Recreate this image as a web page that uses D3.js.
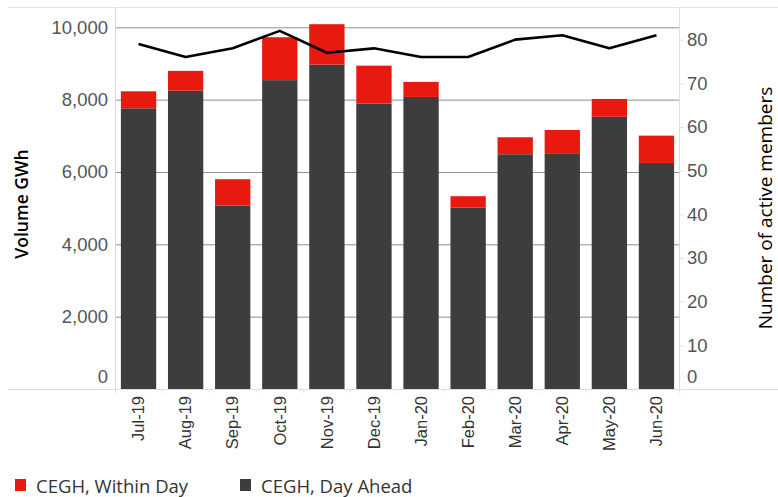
<!DOCTYPE html>
<html>
<head>
<meta charset="utf-8">
<script src="https://cdn.jsdelivr.net/npm/d3@7"></script>
<style>
  body { margin: 0; background: #fff; }
  svg { font-family: "Open Sans", sans-serif; }
</style>
</head>
<body>
<div class="chart"></div>
<script>
// data
let months = ['Jul-19','Aug-19','Sep-19','Oct-19','Nov-19','Dec-19','Jan-20','Feb-20','Mar-20','Apr-20','May-20','Jun-20'];
let dayAhead = [7760, 8250, 5075, 8540, 8970, 7890, 8075, 5020, 6490, 6500, 7525, 6250];
let withinDay = [470, 545, 725, 1185, 1115, 1050, 415, 310, 470, 660, 495, 755];
let members = [79, 76, 78, 82, 77, 78, 76, 76, 80, 81, 78, 81];
let leftTicks = [0, 2000, 4000, 6000, 8000, 10000];
let rightTicks = [0, 10, 20, 30, 40, 50, 60, 70, 80];

let width = 778;
let height = 497;
let plotLeft = 116;
let plotRight = 680;
let plotTop = 7;
let plotBottom = 389;

let red = '#e8190e';
let dark = '#3d3d3d';

let svg = d3.select('.chart')
            .append('svg')
            .attr('width', width)
            .attr('height', height);

let x = d3.scaleBand()
          .domain(months)
          .range([plotLeft - 1, plotRight])
          .paddingInner(0.25)
          .paddingOuter(0.125);
let yLeft = d3.scaleLinear().domain([0, 10000]).range([plotBottom, 27.3]);
let yRight = d3.scaleLinear().domain([0, 80]).range([plotBottom, 39.6]);

// frame lines
svg.append('line').attr('x1', 8).attr('x2', width).attr('y1', plotTop + 0.5).attr('y2', plotTop + 0.5)
   .attr('stroke', '#e3e3e3');
svg.append('line').attr('x1', 8).attr('x2', width).attr('y1', plotBottom + 0.5).attr('y2', plotBottom + 0.5)
   .attr('stroke', '#dcdcdc');
[plotLeft, plotRight].forEach(px => {
  svg.append('line').attr('x1', px - 0.5).attr('x2', px - 0.5).attr('y1', plotTop).attr('y2', plotBottom + 4)
     .attr('stroke', '#dcdcdc');
});

// gridlines
let grid = svg.append('g')
              .attr('transform', 'translate(' + plotLeft + ',0)')
              .call(d3.axisLeft(yLeft).tickValues(leftTicks.slice(1)).tickSize(-(plotRight - plotLeft - 1)).tickFormat(''));
grid.select('.domain').remove();
grid.selectAll('line').attr('stroke', '#8f8f8f');

// category dividers under the x axis
let firstEdge = x.range()[0] + x.step() * x.paddingOuter() - x.step() * x.paddingInner() / 2;
svg.selectAll('.divider')
   .data(d3.range(months.length + 1))
   .enter()
   .append('line')
   .attr('class', 'divider')
   .attr('x1', i => firstEdge + i * x.step())
   .attr('x2', i => firstEdge + i * x.step())
   .attr('y1', plotBottom)
   .attr('y2', plotBottom + 4)
   .attr('stroke', '#e6e6e6');

// stacked bars
let rows = months.map((m, i) => ({month: m, da: dayAhead[i], wd: withinDay[i]}));
let stacked = d3.stack().keys(['da', 'wd'])(rows);
let colors = {da: dark, wd: red};
svg.selectAll('.series')
   .data(stacked)
   .enter()
   .append('g')
   .attr('fill', d => colors[d.key])
   .selectAll('rect')
   .data(d => d)
   .enter()
   .append('rect')
   .attr('x', d => x(d.data.month))
   .attr('y', d => yLeft(d[1]))
   .attr('width', x.bandwidth())
   .attr('height', d => yLeft(d[0]) - yLeft(d[1]));

// members line
let line = d3.line()
             .x((d, i) => x(months[i]) + x.bandwidth() / 2)
             .y(d => yRight(d));
svg.append('path')
   .datum(members)
   .attr('d', line)
   .attr('fill', 'none')
   .attr('stroke', '#000')
   .attr('stroke-width', 2.6)
   .attr('stroke-linejoin', 'round');

// left axis
let axL = svg.append('g')
             .attr('transform', 'translate(' + plotLeft + ',0)')
             .call(d3.axisLeft(yLeft).tickValues(leftTicks).tickFormat(d3.format(',')).tickSize(0).tickPadding(8));
axL.select('.domain').remove();
axL.selectAll('text').attr('fill', '#555').style('font-size', '18.5px');
axL.selectAll('.tick').filter(d => d === 0).select('text').attr('dy', '-0.35em');

// right axis
let axR = svg.append('g')
             .attr('transform', 'translate(' + plotRight + ',0)')
             .call(d3.axisRight(yRight).tickValues(rightTicks).tickSize(4).tickPadding(3));
axR.select('.domain').remove();
axR.selectAll('line').attr('stroke', '#e3e3e3');
axR.selectAll('text').attr('fill', '#555').style('font-size', '18.5px');
axR.selectAll('.tick').filter(d => d === 0).select('text').attr('dy', '-0.35em');

// x axis
let axX = svg.append('g')
             .attr('transform', 'translate(0,' + plotBottom + ')')
             .call(d3.axisBottom(x).tickSize(0));
axX.select('.domain').remove();
axX.selectAll('text')
   .attr('transform', 'rotate(-90)')
   .attr('x', -7)
   .attr('y', 0)
   .attr('dy', '0.35em')
   .style('text-anchor', 'end')
   .style('font-size', '16.5px')
   .attr('fill', '#333');

// axis titles
svg.append('text')
   .attr('transform', 'translate(22,204) rotate(-90)')
   .attr('text-anchor', 'middle')
   .attr('dy', '0.35em')
   .style('font-size', '17.5px')
   .style('font-weight', 600)
   .text('Volume GWh');
svg.append('text')
   .attr('transform', 'translate(765,208) rotate(-90)')
   .attr('text-anchor', 'middle')
   .attr('dy', '0.35em')
   .style('font-size', '19px')
   .style('font-weight', 500)
   .text('Number of active members');

// legend
let legendItems = [{label: 'CEGH, Within Day', color: red, x: 15}, {label: 'CEGH, Day Ahead', color: dark, x: 240}];
let legend = svg.selectAll('.legend')
                .data(legendItems)
                .enter()
                .append('g')
                .attr('transform', d => 'translate(' + d.x + ',479)');
legend.append('rect').attr('width', 11).attr('height', 12).attr('fill', d => d.color);
legend.append('text')
      .attr('x', 21)
      .attr('y', 14)
      .style('font-size', '18.5px')
      .attr('fill', '#333')
      .text(d => d.label);
</script>
</body>
</html>
